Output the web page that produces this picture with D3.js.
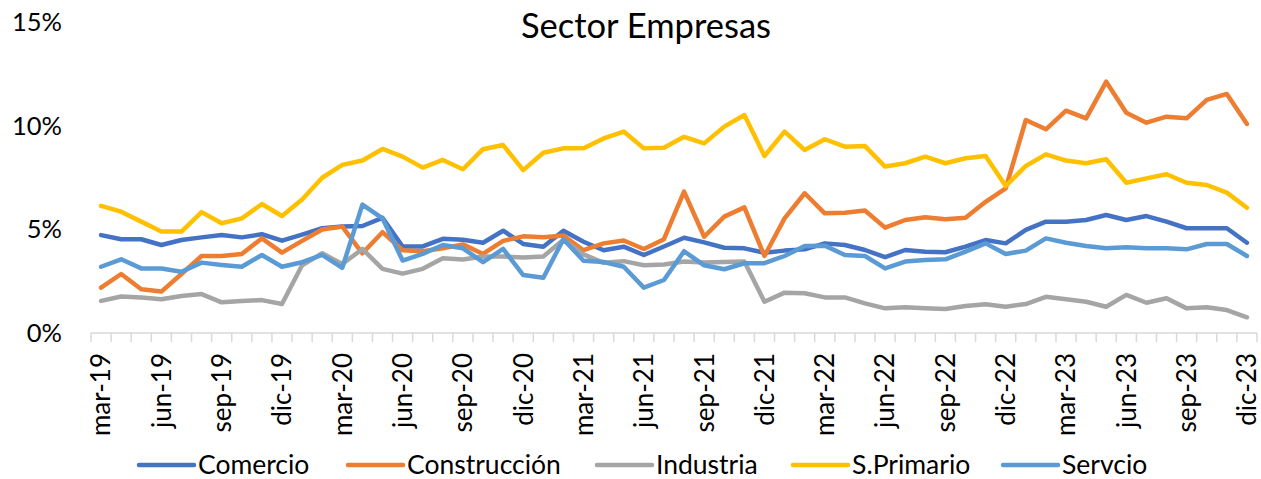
<!DOCTYPE html>
<html>
<head>
<meta charset="utf-8">
<script src="https://cdn.jsdelivr.net/npm/d3@7"></script>
<style>
  html, body { margin: 0; padding: 0; background: #ffffff; }
  svg { display: block; }
  text { font-family: Lato, "Open Sans", sans-serif; fill: #000; }
</style>
</head>
<body>
<div id="chart"></div>
<script>
// ---- data ----
const months = [
  "mar-19","abr-19","may-19","jun-19","jul-19","ago-19","sep-19","oct-19","nov-19","dic-19",
  "ene-20","feb-20","mar-20","abr-20","may-20","jun-20","jul-20","ago-20","sep-20","oct-20","nov-20","dic-20",
  "ene-21","feb-21","mar-21","abr-21","may-21","jun-21","jul-21","ago-21","sep-21","oct-21","nov-21","dic-21",
  "ene-22","feb-22","mar-22","abr-22","may-22","jun-22","jul-22","ago-22","sep-22","oct-22","nov-22","dic-22",
  "ene-23","feb-23","mar-23","abr-23","may-23","jun-23","jul-23","ago-23","sep-23","oct-23","nov-23","dic-23"
];
const tickLabels = months.filter((m, i) => i % 3 === 0);
const yTicks = [0, 5, 10, 15];

const comercio = [4.73,4.53,4.53,4.25,4.49,4.62,4.73,4.62,4.77,4.46,4.75,5.06,5.14,5.17,5.56,4.18,4.18,4.55,4.5,4.36,4.94,4.3,4.17,4.94,4.41,4.0,4.17,3.77,4.18,4.6,4.38,4.12,4.09,3.88,3.98,4.04,4.33,4.25,4.01,3.66,4.01,3.93,3.9,4.17,4.49,4.33,4.98,5.38,5.38,5.46,5.7,5.46,5.65,5.38,5.06,5.06,5.06,4.36];
const construccion = [2.19,2.85,2.11,2.0,2.85,3.72,3.72,3.82,4.57,3.88,4.45,5.0,5.14,3.85,4.87,4.0,3.95,4.09,4.28,3.82,4.45,4.67,4.63,4.71,4.0,4.33,4.47,4.06,4.53,6.83,4.65,5.62,6.07,3.72,5.54,6.75,5.78,5.81,5.92,5.09,5.46,5.59,5.49,5.57,6.34,6.99,10.29,9.84,10.74,10.37,12.14,10.64,10.16,10.45,10.37,11.26,11.55,10.1];
const industria = [1.55,1.76,1.72,1.63,1.79,1.88,1.48,1.55,1.59,1.4,3.27,3.85,3.33,4.06,3.1,2.87,3.1,3.61,3.55,3.7,3.7,3.65,3.7,4.5,3.8,3.39,3.47,3.27,3.31,3.45,3.4,3.43,3.45,1.51,1.95,1.92,1.72,1.72,1.43,1.19,1.24,1.19,1.16,1.3,1.39,1.27,1.4,1.75,1.63,1.51,1.27,1.84,1.46,1.68,1.19,1.24,1.11,0.76];
const sPrimario = [6.14,5.86,5.38,4.9,4.9,5.84,5.3,5.54,6.23,5.65,6.45,7.5,8.12,8.33,8.89,8.52,7.99,8.36,7.91,8.88,9.08,7.87,8.71,8.92,8.92,9.4,9.73,8.92,8.95,9.48,9.16,9.97,10.53,8.55,9.73,8.84,9.36,9.0,9.03,8.04,8.2,8.52,8.2,8.44,8.55,7.1,8.07,8.63,8.33,8.2,8.39,7.26,7.47,7.67,7.26,7.15,6.78,6.05];
const servcio = [3.2,3.56,3.12,3.12,2.96,3.4,3.29,3.2,3.77,3.2,3.42,3.77,3.15,6.2,5.54,3.5,3.82,4.25,4.09,3.42,4.06,2.8,2.67,4.53,3.49,3.43,3.2,2.19,2.56,3.95,3.27,3.08,3.37,3.37,3.72,4.2,4.22,3.77,3.72,3.12,3.45,3.53,3.56,3.93,4.33,3.82,3.98,4.57,4.36,4.2,4.09,4.14,4.09,4.09,4.04,4.3,4.3,3.72];

const seriesNames = ["Comercio","Construcción","Industria","S.Primario","Servcio"];
const seriesValues = [comercio, construccion, industria, sPrimario, servcio];
const seriesColors = ["#4472C4","#ED7D31","#A5A5A5","#FFC000","#5B9BD5"];
const title = "Sector Empresas";

// ---- chart ----
const W = 1261, H = 479;
const svg = d3.select("#chart").append("svg").attr("width", W).attr("height", H);

const x = d3.scaleBand().domain(months).range([91, 1257]);
const y = d3.scaleLinear().domain([0, 15]).range([333, 22.5]);
const cx = m => x(m) + x.bandwidth() / 2;

// title
svg.append("text").attr("x", 646).attr("y", 38).attr("text-anchor", "middle")
  .style("font-size", "34.5px").text(title);

// y labels
svg.append("g").selectAll("text").data(yTicks).join("text")
  .attr("x", 62).attr("y", d => y(d)).attr("dy", "0.35em").attr("text-anchor", "end")
  .style("font-size", "25.5px").text(d => d + "%");

// x axis line and ticks
const axisG = svg.append("g");
axisG.append("line").attr("x1", x.range()[0]).attr("x2", x.range()[1])
  .attr("y1", y(0)).attr("y2", y(0)).attr("stroke", "#D9D9D9").attr("stroke-width", 1.5);
const boundaries = months.map(m => x(m)).concat([x.range()[1]]);
axisG.selectAll("line.tick").data(boundaries).join("line").attr("class", "tick")
  .attr("x1", d => d).attr("x2", d => d).attr("y1", y(0)).attr("y2", y(0) + 9)
  .attr("stroke", "#D9D9D9").attr("stroke-width", 1.5);

// x labels (rotated)
svg.append("g").selectAll("text").data(tickLabels).join("text")
  .attr("transform", d => `translate(${cx(d)},353) rotate(-90)`)
  .attr("text-anchor", "end").attr("dy", "0.36em")
  .style("font-size", "26px").text(d => d);

// lines
const line = d3.line().x((d, i) => cx(months[i])).y(d => y(d)).curve(d3.curveLinear);
svg.append("g").selectAll("path").data(seriesValues).join("path")
  .attr("d", d => line(d)).attr("fill", "none")
  .attr("stroke", (d, i) => seriesColors[i]).attr("stroke-width", 4.5)
  .attr("stroke-linejoin", "round").attr("stroke-linecap", "round");

// legend
const legendPos = [139, 348, 597, 793, 1003];
const lg = svg.append("g").selectAll("g").data(seriesNames).join("g")
  .attr("transform", (d, i) => `translate(${legendPos[i]},465)`);
lg.append("line").attr("x1", 0).attr("x2", 55).attr("y1", 0).attr("y2", 0)
  .attr("stroke", (d, i) => seriesColors[i]).attr("stroke-width", 4.5).attr("stroke-linecap", "round");
lg.append("text").attr("x", 59).attr("y", 0).attr("dy", "0.33em")
  .style("font-size", "26.5px").text(d => d);
</script>
</body>
</html>
